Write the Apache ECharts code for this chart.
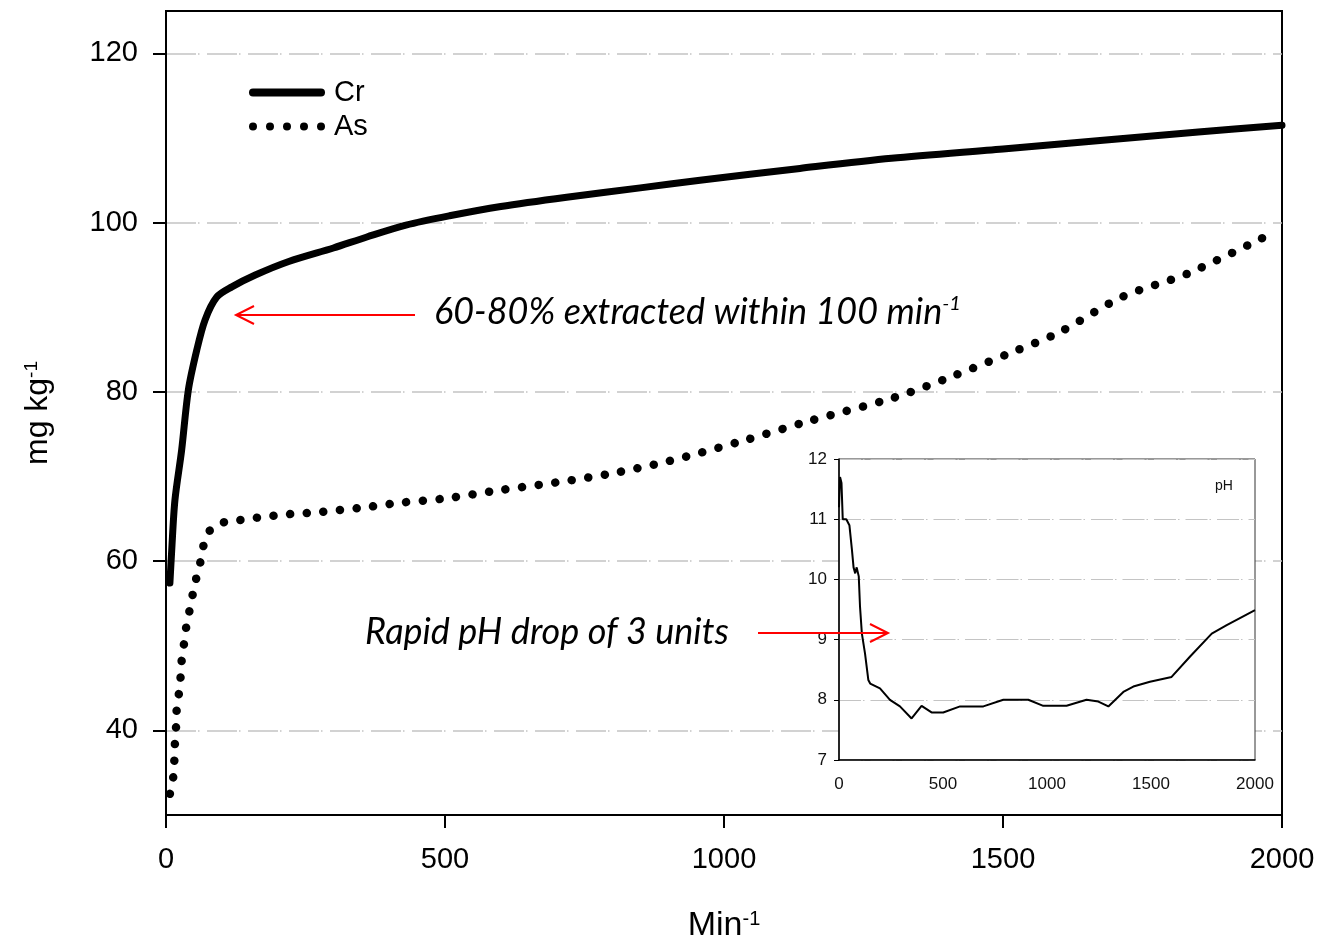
<!DOCTYPE html>
<html><head><meta charset="utf-8">
<script src="https://cdn.jsdelivr.net/npm/echarts@6/dist/echarts.min.js"></script>
<style>html,body{margin:0;padding:0;background:#fff}#c{width:1322px;height:949px}</style>
</head><body><div id="c"></div>
<script>
// ---- data ----
const crData = [[7,57.4],[10,61],[16,67.2],[28,73.1],[40,80.2],[55,84.9],[70,88.5],[91,91.2],[118,92.4],[160,93.8],[220,95.4],[300,97.0],[360,98.3],[430,99.7],[508,100.8],[600,101.9],[718,103.0],[850,104.1],[957,105.0],[1136,106.4],[1300,107.6],[1500,108.7],[1674,109.7],[1850,110.7],[2000,111.5]];
const asData = [[7,32.5],[13,34.5],[15,36.5],[16,38.4],[18,40.4],[19,42.3],[23,44.3],[26,46.2],[28,48.2],[32,50.1],[36,52.1],[42,54.1],[48,56.1],[54,57.9],[62,60.0],[68,62.0],[82,63.9],[110,64.7],[140,64.9],[170,65.2],[200,65.4],[230,65.6],[258,65.7],[350,66.3],[420,66.9],[500,67.4],[600,68.4],[700,69.3],[794,70.3],[900,71.8],[1033,74.2],[1150,76.5],[1304,79.3],[1400,81.6],[1513,84.6],[1600,87.0],[1713,91.2],[1832,94.0],[1990,99.0]];
const phData = [[0,11.2],[5,11.7],[12,11.6],[18,11.0],[35,11.0],[50,10.9],[62,10.5],[70,10.2],[78,10.1],[85,10.2],[95,10.05],[101,9.55],[110,9.1],[125,8.77],[141,8.33],[150,8.27],[197,8.19],[245,8.0],[293,7.89],[349,7.69],[397,7.9],[445,7.79],[501,7.79],[582,7.89],[694,7.89],[790,8.0],[910,8.0],[982,7.9],[1094,7.9],[1190,8.0],[1247,7.97],[1295,7.89],[1367,8.13],[1415,8.22],[1495,8.3],[1599,8.38],[1688,8.72],[1792,9.1],[1864,9.24],[2000,9.49]];
const mainYTicks = [40,60,80,100,120];
const seriesNames = ['Cr','As'];
const annot1 = '60-80% extracted within 100 min';
const annot2 = 'Rapid pH drop of 3 units';

const AR = 'Liberation Sans, Arial, sans-serif';
const CAL = 'Lato, Open Sans, sans-serif';
const GD = [30,2,1.5,7.5];
const plain = v => String(v);
const dotsIcon = 'path://M0,4a4,4 0 1,0 8,0a4,4 0 1,0 -8,0M17,4a4,4 0 1,0 8,0a4,4 0 1,0 -8,0M34,4a4,4 0 1,0 8,0a4,4 0 1,0 -8,0M51,4a4,4 0 1,0 8,0a4,4 0 1,0 -8,0M68,4a4,4 0 1,0 8,0a4,4 0 1,0 -8,0';
const barIcon = 'path://M4,0H72A4,4 0 0,1 72,8H4A4,4 0 0,1 4,0Z';

const chart = echarts.init(document.getElementById('c'), null, {renderer:'canvas'});
chart.setOption({
  animation:false,
  backgroundColor:'#fff',
  grid:[
    {left:166,right:40,top:11,bottom:134,show:true,borderColor:'#000',borderWidth:2,backgroundColor:'transparent',outerBoundsMode:'none',containLabel:false},
    {left:839,top:459,width:416,height:301,show:true,borderColor:'#333',borderWidth:1,backgroundColor:'#fff',z:5,outerBoundsMode:'none',containLabel:false}
  ],
  legend:{
    left:244, top:73, orient:'vertical', itemWidth:76, itemHeight:8, itemGap:5,
    textStyle:{fontSize:29,fontFamily:AR,color:'#000',padding:[0,0,0,4]},
    data:[{name:seriesNames[0],icon:barIcon,itemStyle:{color:'#000'}},{name:seriesNames[1],icon:dotsIcon,itemStyle:{color:'#000'}}],
    selectedMode:false
  },
  xAxis:[
    {gridIndex:0,type:'value',min:0,max:2000,interval:500,
     axisLine:{show:true,onZero:false,lineStyle:{color:'#000',width:2}},
     axisTick:{show:true,length:13,lineStyle:{color:'#000',width:2}},
     axisLabel:{fontSize:29,fontFamily:AR,color:'#000',margin:30,formatter:plain},
     splitLine:{show:false},
     name:'{a|Min}{s|-1}',nameLocation:'middle',nameGap:94,
     nameTextStyle:{rich:{a:{fontSize:34,fontFamily:AR,color:'#000'},s:{fontSize:20,fontFamily:AR,color:'#000',verticalAlign:'top'}}}
    },
    {gridIndex:1,type:'value',min:0,max:2000,interval:500,z:6,
     axisLine:{show:true,onZero:false,lineStyle:{color:'#000',width:1.5}},
     axisTick:{show:false},
     axisLabel:{fontSize:17,fontFamily:AR,color:'#111',margin:16,formatter:plain},
     splitLine:{show:false}}
  ],
  yAxis:[
    {gridIndex:0,type:'value',min:30,max:125,
     axisLine:{show:true,onZero:false,lineStyle:{color:'#000',width:2}},
     axisTick:{show:true,length:13,customValues:mainYTicks,lineStyle:{color:'#000',width:2}},
     axisLabel:{fontSize:29,fontFamily:AR,color:'#000',margin:28,customValues:mainYTicks,formatter:plain},
     splitLine:{show:true,lineStyle:{color:'#c4c4c4',width:1.5,type:GD}},
     name:'{a|mg kg}{s|-1}',nameLocation:'middle',nameGap:112,
     nameTextStyle:{rich:{a:{fontSize:32,fontFamily:AR,color:'#000'},s:{fontSize:19,fontFamily:AR,color:'#000',verticalAlign:'top'}}}
    },
    {gridIndex:1,type:'value',min:7,max:12,interval:1,z:6,
     axisLine:{show:true,onZero:false,lineStyle:{color:'#000',width:1.5}},
     axisTick:{show:true,length:5,lineStyle:{color:'#000',width:1}},
     axisLabel:{fontSize:17,fontFamily:AR,color:'#111',margin:12,formatter:plain},
     splitLine:{show:true,lineStyle:{color:'#c4c4c4',width:1.2,type:[22,2,1.5,6]}}}
  ],
  series:[
    {name:'Cr',type:'line',xAxisIndex:0,yAxisIndex:0,data:crData,symbol:'none',smooth:0.3,
     lineStyle:{color:'#000',width:7,cap:'round',join:'round'},itemStyle:{color:'#000'},z:3},
    {name:'As',type:'line',xAxisIndex:0,yAxisIndex:0,data:asData,symbol:'none',smooth:0.3,
     lineStyle:{color:'#000',width:8.5,type:[0.1,16.6],cap:'round'},itemStyle:{color:'#000'},z:3},
    {name:'pH',type:'line',xAxisIndex:1,yAxisIndex:1,data:phData,symbol:'none',
     lineStyle:{color:'#000',width:2},z:7}
  ],
  graphic:[
    {type:'line',z:20,shape:{x1:415,y1:315,x2:237,y2:315},style:{stroke:'#ff0000',lineWidth:2}},
    {type:'polyline',z:20,shape:{points:[[254,306],[236,315],[254,324]]},style:{stroke:'#ff0000',lineWidth:2,fill:null}},
    {type:'line',z:20,shape:{x1:758,y1:633,x2:887,y2:633},style:{stroke:'#ff0000',lineWidth:2}},
    {type:'polyline',z:20,shape:{points:[[870,624],[888,633],[870,642]]},style:{stroke:'#ff0000',lineWidth:2,fill:null}},
    {type:'text',z:20,x:434,y:312,style:{text:'{a|'+annot1+'}{s|-1}',verticalAlign:'middle',rich:{a:{fontSize:36,fontStyle:'italic',fontFamily:CAL,fill:'#000'},s:{fontSize:20,fontStyle:'italic',fontFamily:CAL,fill:'#000',verticalAlign:'top'}}}},
    {type:'text',z:20,x:365,y:632,style:{text:annot2,verticalAlign:'middle',fontSize:36,fontStyle:'italic',fontFamily:CAL,fill:'#000'}},
    {type:'text',z:20,x:1215,y:479,style:{text:'pH',fontSize:14,fontFamily:AR,fill:'#111'}}
  ]
});
</script></body></html>
